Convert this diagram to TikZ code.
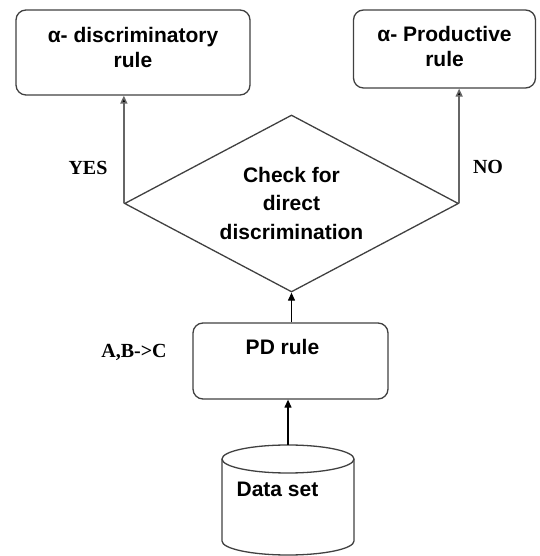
\documentclass[tikz,border=0pt]{standalone}
\usepackage{fontspec}
\setmainfont{Liberation Sans}
\newfontfamily\tnrfont{Liberation Serif}
\usetikzlibrary{shapes.geometric,arrows.meta}
\tikzset{
  rbox/.style={draw=black!75, line width=1.3pt, rounded corners=10pt, inner sep=0pt},
  boxtxt/.style={align=center, font=\fontsize{21}{25}\selectfont\bfseries, inner sep=0pt},
  dia/.style={draw=black!75, line width=1.3pt, shape=diamond, aspect=1.89, inner sep=0pt,
    align=center, font=\fontsize{21}{28.5}\selectfont\bfseries},
  conn/.style={draw=black!60, line width=1.5pt, -{Triangle[length=8pt,width=7pt,fill=black]}},
  conk/.style={draw=black, line width=1.2pt, -{Triangle[length=8pt,width=7pt,fill=black]}},
  lbl/.style={font=\tnrfont\fontsize{20}{22}\selectfont\bfseries, inner sep=0pt},
  txt/.style={font=\fontsize{21}{25}\selectfont\bfseries, inner sep=0pt},
}
\begin{document}
\begin{tikzpicture}[x=1pt,y=1pt]
\useasboundingbox (0,0) rectangle (539,556);
% top boxes
\node[rbox, minimum width=234pt, minimum height=85pt,
  label={[boxtxt, yshift=5pt]center:{α- discriminatory\\rule}}] (b1) at (133,503.5) {};
\node[rbox, minimum width=182pt, minimum height=78pt,
  label={[boxtxt, yshift=2pt]center:{α- Productive\\rule}}] (b2) at (444.5,507) {};
% decision diamond
\node[dia, minimum width=334pt, minimum height=177pt] (d) at (291.5,352.5) {Check for\\direct\\discrimination};
% PD rule box
\node[rbox, minimum width=195pt, minimum height=76pt,
  label={[boxtxt, xshift=-8pt, yshift=14pt]center:{PD rule}}] (pd) at (290.5,195) {};
% data set cylinder
\coordinate (dtop) at (288,111);
\draw[draw=black!75, line width=1.3pt] (222,97) -- (222,15) arc[start angle=180,end angle=360,x radius=66,y radius=14] -- (354,97);
\draw[draw=black!75, line width=1.3pt] (288,97) ellipse[x radius=66,y radius=14];
\node[txt] (ds) at (277.5,67) {Data set};
% connectors
\draw[conk] (dtop) -- (dtop |- pd.south);
\draw[conk] (pd.north -| d.south) -- (d.south);
\draw[conn] (d.west) -- (d.west |- b1.south);
\draw[conn] (d.east) -- (d.east |- b2.south);
% labels
\node[lbl] (yes) at (88,388) {YES};
\node[lbl] (no) at (488,389) {NO};
\node[lbl] (abc) at (134,204) {A,B->C};
\end{tikzpicture}
\end{document}
